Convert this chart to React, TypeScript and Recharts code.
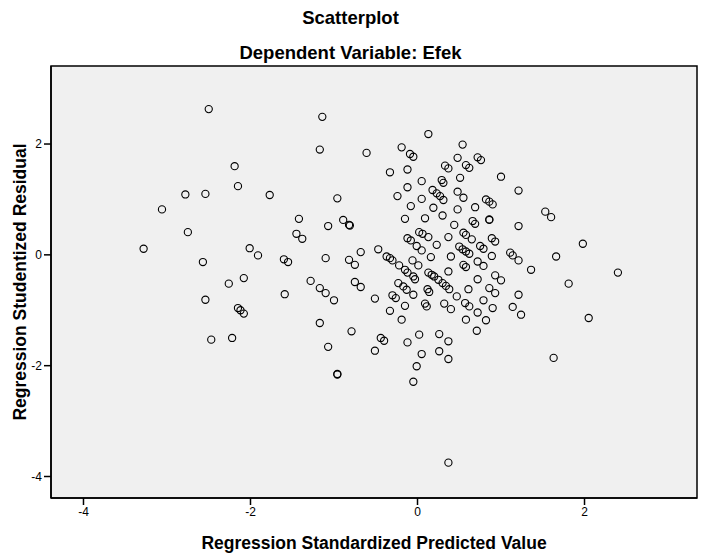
import { ScatterChart, Scatter, XAxis, YAxis, ReferenceArea, Label } from 'recharts';

// Regression Standardized Predicted Value (x) / Regression Studentized Residual (y)
const predictedValues = [
  -2.5, -2.19, -2.15, -2.78, -2.54, -3.06, -2.75, -3.28, -2.01, -1.91,
  -2.57, -2.08, -2.26, -2.54, -2.15, -2.12, -2.08, -2.47, -2.22, -1.14,
  -1.17, -0.61, -0.33, -1.77, -0.96, -0.24, -1.42, -1.07, -0.89, -0.82,
  -0.81, -1.45, -1.38, -1.6, -1.55, -1.1, -0.82, -0.75, -0.68, -0.47,
  -0.37, -0.33, -0.3, -1.28, -1.17, -1.1, -1.0, -1.59, -0.75, -0.68,
  -0.51, -0.3, -0.26, -0.33, -1.17, -0.79, -0.44, -0.4, -0.51, -1.07,
  -0.96, -0.96, 0.13, -0.19, -0.09, -0.05, 0.54, -0.12, 0.48, 0.33,
  0.37, 0.58, 0.62, 0.72, 0.76, 0.51, 0.05, 0.29, 0.31, -0.12,
  0.18, 0.23, 0.27, 0.31, 0.05, 0.48, 0.55, -0.08, 0.19, 0.3,
  0.48, 0.69, -0.15, 0.09, 0.44, 0.66, 0.69, 0.02, 0.06, 0.13,
  0.37, -0.12, -0.08, -0.01, 0.23, 0.05, 0.16, 0.55, 0.58, 0.65,
  0.5, 0.54, 0.58, 0.62, 0.4, -0.22, -0.06, 0.01, -0.15, -0.12,
  -0.05, -0.03, 0.13, 0.17, 0.2, 0.25, 0.37, 0.55, 0.58, 0.3,
  0.34, 0.38, -0.23, -0.17, -0.13, -0.05, 0.12, 0.14, 0.61, 0.47,
  0.09, 0.11, -0.15, 0.32, 0.4, 0.57, 0.62, -0.19, 0.58, 0.71,
  0.02, -0.12, 0.26, 0.37, 0.05, 0.26, 0.37, -0.01, -0.05, 0.37,
  1.0, 1.21, 0.82, 0.86, 0.9, 1.53, 1.6, 0.86, 0.86, 1.21,
  0.89, 0.93, 0.75, 0.79, 0.89, 1.11, 1.14, 1.21, 1.66, 1.36,
  0.72, 0.79, 0.93, 1.0, 0.72, 0.86, 0.93, 1.21, 0.79, 0.9,
  1.14, 1.24, 0.72, 0.82, 1.63, 1.98, 2.4, 1.81, 2.05,
];

const studentizedResiduals = [
  2.63, 1.6, 1.24, 1.09, 1.1, 0.82, 0.41, 0.11, 0.12, -0.01,
  -0.13, -0.42, -0.52, -0.81, -0.96, -1.0, -1.06, -1.53, -1.5, 2.49,
  1.9, 1.84, 1.49, 1.08, 1.02, 1.06, 0.65, 0.52, 0.63, 0.54,
  0.53, 0.38, 0.29, -0.08, -0.13, -0.06, -0.09, -0.18, 0.05, 0.1,
  -0.03, -0.06, -0.1, -0.47, -0.6, -0.69, -0.82, -0.71, -0.49, -0.58,
  -0.79, -0.73, -0.78, -1.01, -1.23, -1.38, -1.5, -1.55, -1.73, -1.66,
  -2.15, -2.16, 2.18, 1.94, 1.82, 1.77, 1.99, 1.54, 1.75, 1.61,
  1.56, 1.62, 1.57, 1.76, 1.71, 1.39, 1.33, 1.35, 1.3, 1.22,
  1.17, 1.11, 1.06, 0.99, 1.01, 1.14, 1.03, 0.88, 0.85, 0.71,
  0.82, 0.86, 0.65, 0.66, 0.54, 0.61, 0.56, 0.41, 0.38, 0.32,
  0.32, 0.3, 0.26, 0.16, 0.18, 0.08, -0.04, 0.4, 0.36, 0.28,
  0.15, 0.1, 0.06, 0.02, -0.03, -0.19, -0.1, -0.19, -0.27, -0.32,
  -0.39, -0.44, -0.32, -0.36, -0.39, -0.45, -0.3, -0.18, -0.22, -0.51,
  -0.56, -0.62, -0.51, -0.57, -0.63, -0.72, -0.62, -0.67, -0.62, -0.75,
  -0.88, -0.93, -0.92, -0.88, -0.98, -0.87, -0.93, -1.17, -1.17, -1.37,
  -1.44, -1.58, -1.43, -1.56, -1.79, -1.74, -1.88, -2.01, -2.29, -3.75,
  1.41, 1.16, 1.0, 0.96, 0.91, 0.78, 0.68, 0.64, 0.63, 0.52,
  0.3, 0.24, 0.16, 0.11, -0.02, 0.04, -0.01, -0.1, -0.03, -0.27,
  -0.12, -0.2, -0.37, -0.46, -0.44, -0.6, -0.69, -0.72, -0.82, -0.96,
  -0.94, -1.08, -1.04, -1.18, -1.86, 0.2, -0.32, -0.52, -1.14,
];

const xTicks = [-4, -2, 0, 2];
const yTicks = [-4, -2, 0, 2];

const X_DOMAIN: [number, number] = [-4.389, 3.347];
const Y_DOMAIN: [number, number] = [-4.388, 3.408];

const points = predictedValues.map((x, i) => ({ x, y: studentizedResiduals[i] }));

const FONT = '"Liberation Sans", Arial, sans-serif';

const OpenCircle = (props: any) => {
  const { cx, cy } = props;
  if (cx == null || cy == null) return null;
  return <circle cx={cx} cy={cy} r={3.6} fill="none" stroke="#000" strokeWidth={1.1} />;
};

const titleStyle: React.CSSProperties = {
  position: 'absolute',
  left: 0,
  width: 701,
  textAlign: 'center',
  fontFamily: FONT,
  fontWeight: 'bold',
  fontSize: 18.5,
  lineHeight: '22px',
  color: '#000',
};

const axisLabelStyle = { fontFamily: FONT, fontWeight: 'bold', fontSize: 17.5, fill: '#000' };

export default function App() {
  return (
    <div style={{ position: 'absolute', left: 0, top: 0, width: 701, height: 556, background: '#fff' }}>
      <div style={{ ...titleStyle, top: 7 }}>Scatterplot</div>
      <div style={{ ...titleStyle, top: 42 }}>Dependent Variable: Efek</div>
      <ScatterChart
        width={701}
        height={556}
        margin={{ top: 66, right: 4, bottom: 0, left: 0 }}
        style={{ position: 'absolute', left: 0, top: 0 }}
      >
        <XAxis
          type="number"
          dataKey="x"
          domain={X_DOMAIN}
          ticks={xTicks}
          allowDataOverflow
          height={58}
          axisLine={{ stroke: '#000', strokeWidth: 1.5 }}
          tickLine={{ stroke: '#000', strokeWidth: 1.5 }}
          tickSize={7}
          tick={{ fill: '#000', fontSize: 12, fontFamily: FONT }}
        >
          <Label
            value="Regression Standardized Predicted Value"
            position="insideBottom"
            offset={7}
            style={axisLabelStyle}
          />
        </XAxis>
        <YAxis
          type="number"
          dataKey="y"
          domain={Y_DOMAIN}
          ticks={yTicks}
          allowDataOverflow
          width={51}
          axisLine={{ stroke: '#000', strokeWidth: 1.5 }}
          tickLine={{ stroke: '#000', strokeWidth: 1.5 }}
          tickSize={7}
          tick={{ fill: '#000', fontSize: 12, fontFamily: FONT }}
        >
          <Label
            value="Regression Studentized Residual"
            angle={-90}
            position="insideLeft"
            offset={20}
            style={{ ...axisLabelStyle, textAnchor: 'middle' }}
          />
        </YAxis>
        <ReferenceArea
          x1={X_DOMAIN[0]}
          x2={X_DOMAIN[1]}
          y1={Y_DOMAIN[0]}
          y2={Y_DOMAIN[1]}
          fill="#f0f0f0"
          fillOpacity={1}
          stroke="#000"
          strokeWidth={1.5}
        />
        <Scatter data={points} shape={OpenCircle} isAnimationActive={false} />
      </ScatterChart>
    </div>
  );
}
